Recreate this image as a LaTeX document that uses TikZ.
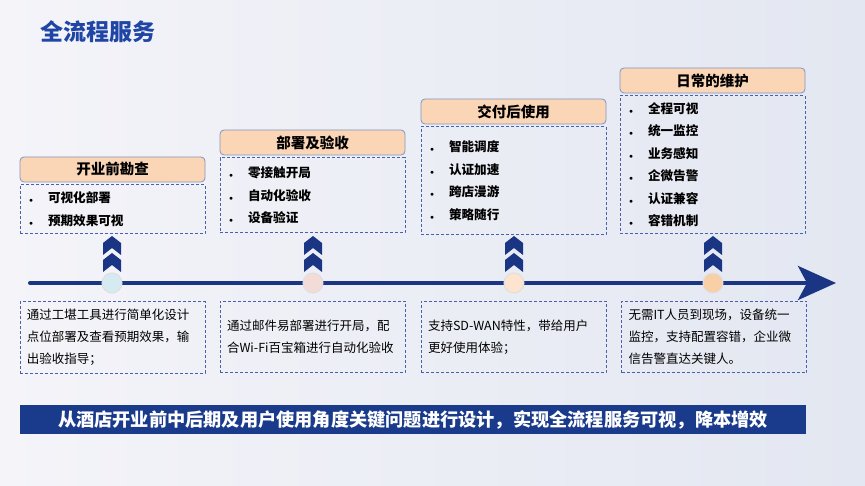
\documentclass[tikz,border=0pt]{standalone}
\usepackage{fontspec}
\setmainfont{Noto Sans CJK SC}
\usetikzlibrary{arrows.meta,positioning,calc}
\definecolor{navy}{HTML}{1B3585}
\definecolor{titleblue}{HTML}{1F45A5}
\definecolor{peach}{HTML}{FBD6B6}
\definecolor{hdline}{HTML}{8095BC}
\definecolor{dashblue}{HTML}{4662AE}
\definecolor{bannerblue}{HTML}{1A3A8C}
\definecolor{bgleft}{HTML}{F4F4F9}
\definecolor{bgright}{HTML}{E3E7F1}
\newcommand\bul[1]{\makebox[19pt][l]{\scriptsize$\bullet$}#1}

\tikzset{
  hdbox/.style={draw=hdline, fill=peach, rounded corners=4pt, line width=0.8pt,
    minimum width=185pt, minimum height=25pt, inner sep=0pt,
    font=\fontsize{14.5}{16}\selectfont\bfseries},
  ptbox/.style={draw=dashblue, dash pattern=on 3pt off 2pt, line width=1pt,
    text width=167pt, inner xsep=9pt, inner ysep=0pt, align=left,
    font=\fontsize{12.6}{22.5}\selectfont\bfseries},
  descbox/.style={draw=dashblue, dash pattern=on 3pt off 2pt, line width=1pt,
    text width=171pt, inner xsep=7pt, inner ysep=0pt, align=left,
    minimum height=71pt, font=\fontsize{12.5}{22}\selectfont},
  dot/.style={circle, minimum size=20pt, inner sep=0pt, draw=white!75!gray, line width=1pt}
}

\begin{document}
\begin{tikzpicture}[x=1pt, y=-1pt]
  \useasboundingbox (0,0) rectangle (865,486);
  \fill[left color=bgleft, right color=bgright] (0,0) rectangle (865,486);

  % title
  \node[anchor=west, inner sep=0pt, text=titleblue, font=\fontsize{23}{26}\selectfont\bfseries] (title) at (40,32) {全流程服务};

  % stage headers and points
  \node[hdbox] (hd1) at (112.5,169.5) {开业前勘查};
  \node[ptbox, minimum height=49pt, below=2pt of hd1] (pts1) {\bul{可视化部署}\\\bul{预期效果可视}};

  \node[hdbox] (hd2) at (312.5,142.5) {部署及验收};
  \node[ptbox, minimum height=75pt, below=2pt of hd2] (pts2) {\bul{零接触开局}\\\bul{自动化验收}\\\bul{设备验证}};

  \node[hdbox] (hd3) at (513.5,111.5) {交付后使用};
  \node[ptbox, minimum height=108pt, below=2pt of hd3] (pts3) {\bul{智能调度}\\\bul{认证加速}\\\bul{跨店漫游}\\\bul{策略随行}};

  \node[hdbox] (hd4) at (712.5,80.5) {日常的维护};
  \node[ptbox, minimum height=138pt, below=2pt of hd4] (pts4) {\bul{全程可视}\\\bul{统一监控}\\\bul{业务感知}\\\bul{企微告警}\\\bul{认证兼容}\\\bul{容错机制}};

  % timeline
  \coordinate (tl-start) at (30,283);
  \coordinate (tl-end) at (836,283);
  \draw[navy, line width=4pt, line cap=round, -{Stealth[length=38pt,width=34pt,inset=9pt]}] (tl-start) -- (tl-end);

  \node[dot, fill={rgb,255:red,213;green,235;blue,241}] (c1) at (112,283) {};
  \node[dot, fill={rgb,255:red,243;green,220;blue,216}] (c2) at (313,283) {};
  \node[dot, fill={rgb,255:red,252;green,228;blue,207}] (c3) at (514,283) {};
  \node[dot, fill={rgb,255:red,248;green,207;blue,167}] (c4) at (713,283) {};

  \foreach \i in {1,...,4}
    \foreach \a in {-47,-30}
      \fill[navy, shift={(c\i)}] (0,\a) -- ++(9,7) -- ++(0,12) -- ++(-9,-7) -- ++(-9,7) -- ++(0,-12) -- cycle;

  % descriptions
  \node[descbox] (desc1) at (112.5,337.5) {通过工堪工具进行简单化设计\\点位部署及查看预期效果，输\\出验收指导；};
  \node[descbox] (desc2) at (312.5,337) {通过邮件易部署进行开局，配\\合Wi-Fi百宝箱进行自动化验收};
  \node[descbox] (desc3) at (513.5,337) {支持SD-WAN特性，带给用户\\更好使用体验；};
  \node[descbox] (desc4) at (714,337) {无需IT人员到现场，设备统一\\监控，支持配置容错，企业微\\信告警直达关键人。};

  % banner
  \node[fill=bannerblue, minimum width=786pt, minimum height=29pt, inner sep=0pt, text=white,
    font=\fontsize{18.2}{20}\selectfont\bfseries] (banner) at (413,419.5)
    {从酒店开业前中后期及用户使用角度关键问题进行设计，实现全流程服务可视，降本增效};
\end{tikzpicture}
\end{document}
